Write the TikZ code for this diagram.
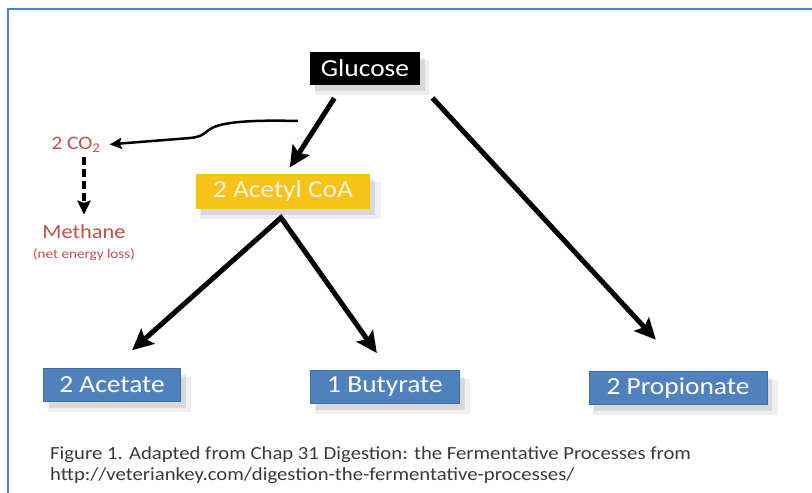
\documentclass[tikz,border=0pt]{standalone}
\usepackage{fontspec}
\setmainfont{Carlito}[FakeStretch=1.12]
\usetikzlibrary{arrows.meta, positioning, shadows, calc}

\definecolor{frameblue}{HTML}{4A86C8}
\definecolor{boxblue}{HTML}{4F81BD}
\definecolor{acyellow}{HTML}{F7C31A}
\definecolor{actext}{HTML}{FFF4D8}
\definecolor{cored}{HTML}{C0504D}
\definecolor{captext}{HTML}{3A3A3A}

\begin{document}
\begin{tikzpicture}[x=1pt, y=-1pt,
  box/.style={minimum height=33pt, inner sep=2pt, text=white, font=\fontsize{24.5}{26}\selectfont,
    drop shadow={shadow xshift=7pt, shadow yshift=-9pt, opacity=.12, shadow scale=1.04},
    drop shadow={shadow xshift=5pt, shadow yshift=-6pt, opacity=.2}},
  bluebox/.style={box, fill=boxblue, draw=boxblue!85!black, line width=.6pt},
  redtext/.style={text=cored, inner sep=1pt},
  arr/.style={line width=5pt, -{Stealth[length=21pt, width=20pt, inset=4pt]}},
  fork arr/.style={line width=5pt, line join=miter,
    {Stealth[length=21pt, width=20pt, inset=4pt]}-{Stealth[length=21pt, width=20pt, inset=4pt]}},
  thin arr/.style={line width=2.5pt, -{Stealth[length=12pt, width=11pt, inset=2pt]}}]
\fill[white] (0,0) rectangle (812,493);
\useasboundingbox (0,0) rectangle (812,493);
\draw[frameblue, line width=1.6pt] (8,493) -- (8,9) -- (812,9);

% boxes
\node[box, fill=black, minimum width=110pt] (glucose) at (365,68) {Glucose};
\node[box, fill=acyellow, text=actext, minimum width=174pt, minimum height=35pt] (acetyl) at (283,191) {2 Acetyl CoA};
\node[bluebox, minimum width=137pt] (acetate) at (112,385) {2 Acetate};
\node[bluebox, minimum width=149pt] (butyrate) at (385,387) {1 Butyrate};
\node[bluebox, minimum width=178pt] (propionate) at (678,388) {2 Propionate};

% side products
\node[redtext, font=\fontsize{19}{21}\selectfont] (co2) at (76,145) {2 CO\textsubscript{2}};
\node[redtext, font=\fontsize{20}{22}\selectfont] (methane) at (84,232) {Methane};
\node[redtext, font=\fontsize{13.5}{15}\selectfont] (loss) at (84,255) {(net energy loss)};

\node[anchor=north west, align=left, inner sep=0pt, text=captext, font=\fontsize{18.5}{21}\selectfont] (caption) at (50,446)
  {Figure 1. Adapted from Chap 31 Digestion: the Fermentative Processes from\\http://veteriankey.com/digestion-the-fermentative-processes/};

% arrows
\coordinate (fork) at ($(acetyl.south)+(-2,9)$);
\coordinate (split) at (298,121);
\draw[arr, shorten <=16pt, shorten >=7pt] ([xshift=-22pt]glucose.south) -- ([xshift=3pt]acetyl.north);
\draw[arr, shorten <=18pt, shorten >=43pt] (glucose.south east) -- ([xshift=7pt]propionate.north);
\draw[fork arr, shorten <=27pt, shorten >=21pt] (acetate.north) -- (fork) -- ([xshift=4pt]butyrate.north);
\draw[thin arr, shorten >=8pt] (split) .. controls (260,120) and (225,121) .. (212,128)
  .. controls (205,132) and (203,137) .. (190,138) -- (co2.east);
\draw[arr, line width=3.5pt, dash pattern=on 8pt off 4pt, -{Stealth[length=14pt, width=13pt, inset=2pt]},
  shorten <=3pt, shorten >=9pt] (co2.south -| methane) -- (methane.north);
\end{tikzpicture}
\end{document}
